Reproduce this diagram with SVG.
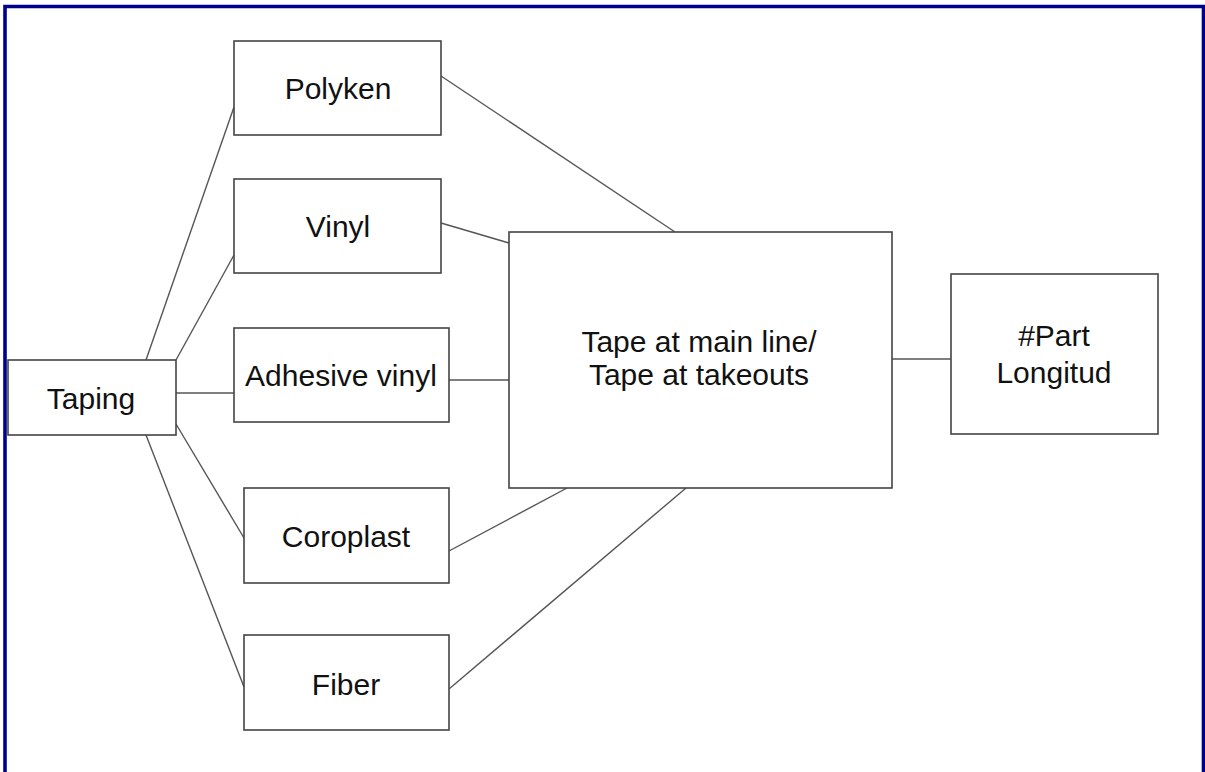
<svg xmlns="http://www.w3.org/2000/svg" width="1205" height="772" viewBox="0 0 1205 772">
<style>
.box{fill:#fff;stroke:#444;stroke-width:1.6}
.lbl{font-family:"Liberation Sans",Arial,sans-serif;font-size:30px;fill:#111;text-anchor:middle}
.conn line{stroke:#555;stroke-width:1.4}
</style>
<rect x="0" y="0" width="1205" height="772" fill="#fff"/>
<path d="M5,772 V6.5 H1203.5 V772" fill="none" stroke="#00008c" stroke-width="3.6"/>
<g class="conn" id="connectors">
<line x1="146" y1="360" x2="234" y2="107"/>
<line x1="176" y1="360" x2="234" y2="255"/>
<line x1="176" y1="393" x2="234" y2="393"/>
<line x1="176" y1="424" x2="244" y2="538"/>
<line x1="146" y1="435" x2="244" y2="687"/>
<line x1="441" y1="76" x2="675" y2="232"/>
<line x1="441" y1="223" x2="509" y2="243"/>
<line x1="449" y1="380" x2="509" y2="380"/>
<line x1="449" y1="551" x2="567" y2="488"/>
<line x1="449" y1="689" x2="686" y2="488"/>
<line x1="892" y1="359" x2="951" y2="359"/>
</g>
<g id="taping"><rect class="box" x="8" y="360" width="168" height="75"/><text class="lbl" x="91" y="409">Taping</text></g>
<g id="polyken"><rect class="box" x="234" y="41" width="207" height="94"/><text class="lbl" x="338" y="99">Polyken</text></g>
<g id="vinyl"><rect class="box" x="234" y="179" width="207" height="94"/><text class="lbl" x="338" y="237">Vinyl</text></g>
<g id="adhesive"><rect class="box" x="234" y="328" width="215" height="94"/><text class="lbl" x="341" y="386">Adhesive vinyl</text></g>
<g id="coroplast"><rect class="box" x="244" y="488" width="205" height="95"/><text class="lbl" x="346" y="547">Coroplast</text></g>
<g id="fiber"><rect class="box" x="244" y="635" width="205" height="95"/><text class="lbl" x="346" y="695">Fiber</text></g>
<g id="tape"><rect class="box" x="509" y="232" width="383" height="256"/><text class="lbl" x="699" y="352">Tape at main line/</text><text class="lbl" x="699" y="385">Tape at takeouts</text></g>
<g id="part"><rect class="box" x="951" y="274" width="207" height="160"/><text class="lbl" x="1054" y="346">#Part</text><text class="lbl" x="1054" y="383">Longitud</text></g>
</svg>
